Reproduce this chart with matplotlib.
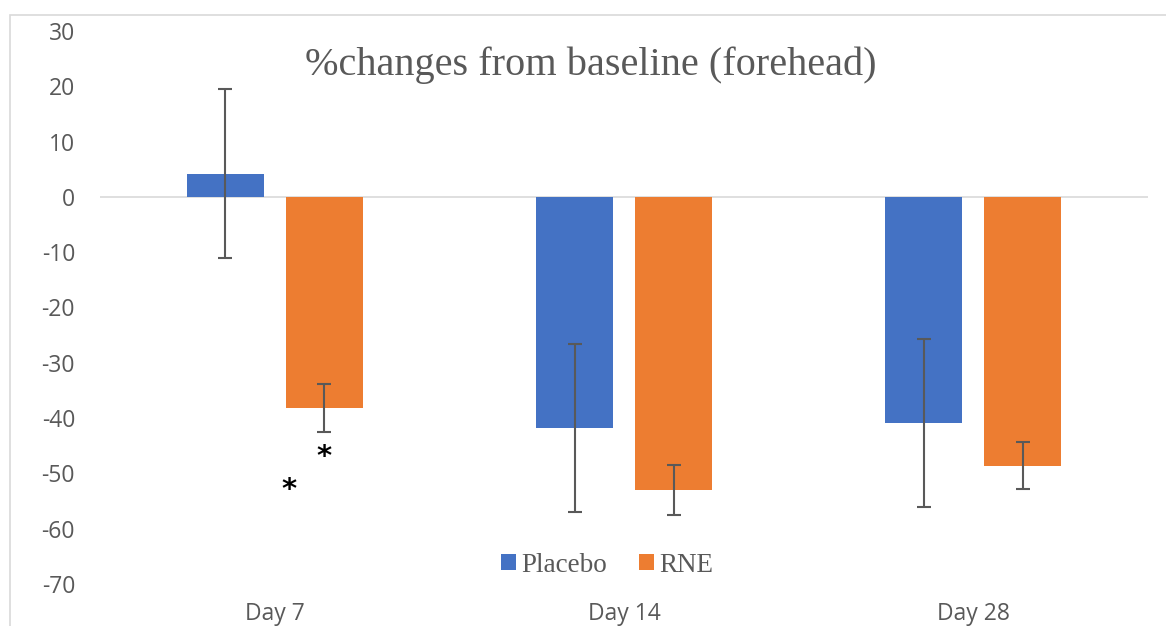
import numpy as np
import matplotlib.pyplot as plt
from matplotlib.patches import Rectangle

plt.rcParams['axes.unicode_minus'] = False

days = ["Day 7", "Day 14", "Day 28"]
placebo = [4.2, -41.8, -40.9]
placebo_err = [15.3, 15.2, 15.2]
rne = [-38.2, -53.0, -48.6]
rne_err = [4.4, 4.5, 4.3]
# significance marks (x in category units, y in data units)
stars_x = [0.1416, 0.04]
stars_y = [-47.0, -53.0]

blue = '#4472C4'
orange = '#ED7D31'
grey = '#595959'

fig = plt.figure(figsize=(11.66, 6.26), dpi=100)
ax = fig.add_axes([0.0858, 0.0671, 0.8988, 0.8834])

x = np.arange(len(days))
off = 0.1416
w = 0.22
ekw = dict(ecolor=grey, elinewidth=1.5, capsize=5, capthick=1.5)
ax.bar(x - off, placebo, w, yerr=placebo_err, color=blue, label='Placebo', error_kw=ekw, zorder=2)
ax.bar(x + off, rne, w, yerr=rne_err, color=orange, label='RNE', error_kw=ekw, zorder=2)
ax.axhline(0, color='#d9d9d9', lw=1.2, zorder=1)

for sx, sy in zip(stars_x, stars_y):
    ax.text(sx, sy, '*', ha='center', va='center', fontsize=21, fontweight='bold',
            color='black', family='DejaVu Sans')

ax.set_xlim(-0.5, 2.5)
ax.set_ylim(-70, 30)
ax.set_yticks(np.arange(-70, 31, 10))
ax.set_xticks(x)
ax.set_xticklabels(days)
for s in ax.spines.values():
    s.set_visible(False)
ax.tick_params(axis='y', length=0, pad=18, labelsize=16.5, labelcolor=grey)
ax.tick_params(axis='x', length=0, pad=13, labelsize=16.5, labelcolor=grey)
for lab in ax.get_xticklabels() + ax.get_yticklabels():
    lab.set_family('Open Sans')

leg = ax.legend(loc='center', bbox_to_anchor=(0.484, 0.034), ncol=2, frameon=False,
                prop={'family': 'Liberation Serif', 'size': 19.5},
                handlelength=0.55, handleheight=0.55, handletextpad=0.2, columnspacing=1.2)
for t in leg.get_texts():
    t.set_color(grey)

fig.text(0.507, 1 - 75 / 626, '%changes from baseline (forehead)', ha='center', va='baseline',
         fontsize=29, family='Liberation Serif', color=grey)

fig.patches.append(Rectangle((10 / 1166, -0.1), 1.2, 1 - 15 / 626 + 0.1, transform=fig.transFigure,
                             fill=False, edgecolor='#d9d9d9', lw=1.2))

fig.savefig('out.png', dpi=100)
